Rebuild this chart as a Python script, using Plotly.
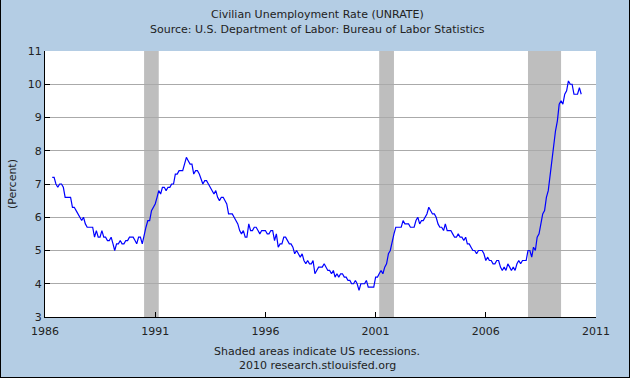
import pandas as pd
import plotly.graph_objects as go

# Monthly unemployment rate, May 1986 - May 2010 (percent)
start_month = "1986-05-01"
unrate = [
    # 1986 May-Dec
    7.2, 7.2, 7.0, 6.9, 7.0, 7.0, 6.9, 6.6,
    # 1987
    6.6, 6.6, 6.6, 6.3, 6.3, 6.2, 6.1, 6.0, 5.9, 6.0, 5.8, 5.7,
    # 1988
    5.7, 5.7, 5.7, 5.4, 5.6, 5.4, 5.4, 5.6, 5.4, 5.4, 5.3, 5.3,
    # 1989
    5.4, 5.2, 5.0, 5.2, 5.2, 5.3, 5.2, 5.2, 5.3, 5.3, 5.4, 5.4,
    # 1990
    5.4, 5.3, 5.2, 5.4, 5.4, 5.2, 5.5, 5.7, 5.9, 5.9, 6.2, 6.3,
    # 1991
    6.4, 6.6, 6.8, 6.7, 6.9, 6.9, 6.8, 6.9, 6.9, 7.0, 7.0, 7.3,
    # 1992
    7.3, 7.4, 7.4, 7.4, 7.6, 7.8, 7.7, 7.6, 7.6, 7.3, 7.4, 7.4,
    # 1993
    7.3, 7.1, 7.0, 7.1, 7.1, 7.0, 6.9, 6.8, 6.7, 6.8, 6.6, 6.5,
    # 1994
    6.6, 6.6, 6.5, 6.4, 6.1, 6.1, 6.1, 6.0, 5.9, 5.8, 5.6, 5.5,
    # 1995
    5.6, 5.4, 5.4, 5.8, 5.6, 5.6, 5.7, 5.7, 5.6, 5.5, 5.6, 5.6,
    # 1996
    5.6, 5.5, 5.5, 5.6, 5.6, 5.3, 5.5, 5.1, 5.2, 5.2, 5.4, 5.4,
    # 1997
    5.3, 5.2, 5.2, 5.1, 4.9, 5.0, 4.9, 4.8, 4.9, 4.7, 4.6, 4.7,
    # 1998
    4.6, 4.6, 4.7, 4.3, 4.4, 4.5, 4.5, 4.5, 4.6, 4.5, 4.4, 4.4,
    # 1999
    4.3, 4.4, 4.2, 4.3, 4.2, 4.3, 4.3, 4.2, 4.2, 4.1, 4.1, 4.0,
    # 2000
    4.0, 4.1, 4.0, 3.8, 4.0, 4.0, 4.0, 4.1, 3.9, 3.9, 3.9, 3.9,
    # 2001
    4.2, 4.2, 4.3, 4.4, 4.3, 4.5, 4.6, 4.9, 5.0, 5.3, 5.5, 5.7,
    # 2002
    5.7, 5.7, 5.7, 5.9, 5.8, 5.8, 5.8, 5.7, 5.7, 5.7, 5.9, 6.0,
    # 2003
    5.8, 5.9, 5.9, 6.0, 6.1, 6.3, 6.2, 6.1, 6.1, 6.0, 5.8, 5.7,
    # 2004
    5.7, 5.6, 5.8, 5.6, 5.6, 5.6, 5.5, 5.4, 5.4, 5.5, 5.4, 5.4,
    # 2005
    5.3, 5.4, 5.2, 5.2, 5.1, 5.0, 5.0, 4.9, 5.0, 5.0, 5.0, 4.9,
    # 2006
    4.7, 4.8, 4.7, 4.7, 4.6, 4.6, 4.7, 4.7, 4.5, 4.4, 4.5, 4.4,
    # 2007
    4.6, 4.5, 4.4, 4.5, 4.4, 4.6, 4.7, 4.6, 4.7, 4.7, 4.7, 5.0,
    # 2008
    5.0, 4.8, 5.1, 5.0, 5.4, 5.5, 5.8, 6.1, 6.2, 6.6, 6.8, 7.3,
    # 2009
    7.7, 8.2, 8.6, 8.9, 9.4, 9.5, 9.4, 9.7, 9.8, 10.1, 10.0, 10.0,
    # 2010 Jan-May
    9.7, 9.7, 9.7, 9.9, 9.7,
]
dates = pd.date_range(start_month, periods=len(unrate), freq="MS")

recession_starts = ["1990-07-01", "2001-03-01", "2007-12-01"]
recession_ends = ["1991-03-01", "2001-11-01", "2009-06-01"]

tick_years = ["1986", "1991", "1996", "2001", "2006", "2011"]
y_ticks = [3, 4, 5, 6, 7, 8, 9, 10, 11]

title_line1 = "Civilian Unemployment Rate (UNRATE)"
title_line2 = "Source: U.S. Department of Labor: Bureau of Labor Statistics"
footer_line1 = "Shaded areas indicate US recessions."
footer_line2 = "2010 research.stlouisfed.org"
y_title = "(Percent)"

W, H = 630, 378
L, R, T, B = 45, 34, 51, 61
PW, PH = W - L - R, H - T - B


def px(x):
    return (x - L) / PW


def py(y):
    return (H - B - y) / PH


BG = "#B4CDE4"
FONT = "DejaVu Sans"
TXT = "#222222"

fig = go.Figure()
fig.add_trace(go.Scatter(
    x=dates, y=unrate, mode="lines",
    line=dict(color="#0000FF", width=1.2, shape="linear"),
    hoverinfo="skip", showlegend=False,
))

shapes = []
for s, e in zip(recession_starts, recession_ends):
    shapes.append(dict(type="rect", xref="x", yref="paper", x0=s, x1=e, y0=0, y1=1,
                       fillcolor="#BEBEBE", line=dict(width=0), layer="below"))
# outer frame: left, right, bottom
shapes.append(dict(type="line", xref="paper", yref="paper", x0=px(0.5), x1=px(0.5),
                   y0=py(0), y1=py(H), line=dict(color="black", width=1)))
shapes.append(dict(type="line", xref="paper", yref="paper", x0=px(W - 0.5), x1=px(W - 0.5),
                   y0=py(0), y1=py(H), line=dict(color="black", width=1)))
shapes.append(dict(type="line", xref="paper", yref="paper", x0=px(0), x1=px(W),
                   y0=py(H - 0.5), y1=py(H - 0.5), line=dict(color="black", width=1)))


def ann(text, x, y, angle=0):
    return dict(text=text, x=px(x), y=py(y), xref="paper", yref="paper",
                xanchor="center", yanchor="middle", textangle=angle,
                showarrow=False, font=dict(size=11, color=TXT, family=FONT))


annotations = [
    ann(title_line1, 317, 15),
    ann(title_line2, 317, 30),
    ann(footer_line1, 317, 351),
    ann(footer_line2, 317, 365),
    ann(y_title, 12, 184, -90),
]

fig.update_layout(
    width=W, height=H,
    margin=dict(l=L, r=R, t=T, b=B, pad=0),
    paper_bgcolor=BG, plot_bgcolor="white",
    font=dict(family=FONT, size=11, color=TXT),
    shapes=shapes, annotations=annotations,
    showlegend=False,
    xaxis=dict(
        type="date", range=["1986-01-01", "2011-01-01"],
        tickmode="array", tickvals=[f"{y}-01-01" for y in tick_years], ticktext=tick_years,
        ticks="inside", ticklen=5, tickcolor="black", tickwidth=1,
        ticklabelstandoff=4,
        showgrid=False, zeroline=False,
        showline=True, linecolor="black", linewidth=1,
        tickfont=dict(size=11, color=TXT, family=FONT),
        fixedrange=True,
    ),
    yaxis=dict(
        range=[3, 11], tickmode="array", tickvals=y_ticks,
        ticks="inside", ticklen=5, tickcolor="black", tickwidth=1,
        showgrid=True, gridcolor="#AAAAAA", gridwidth=1, zeroline=False,
        showline=True, linecolor="black", linewidth=1,
        tickfont=dict(size=11, color=TXT, family=FONT),
        fixedrange=True,
    ),
)

fig.write_html("out.html", config={"displayModeBar": False},
               post_script="document.body.style.margin='0';document.body.style.padding='0';")
